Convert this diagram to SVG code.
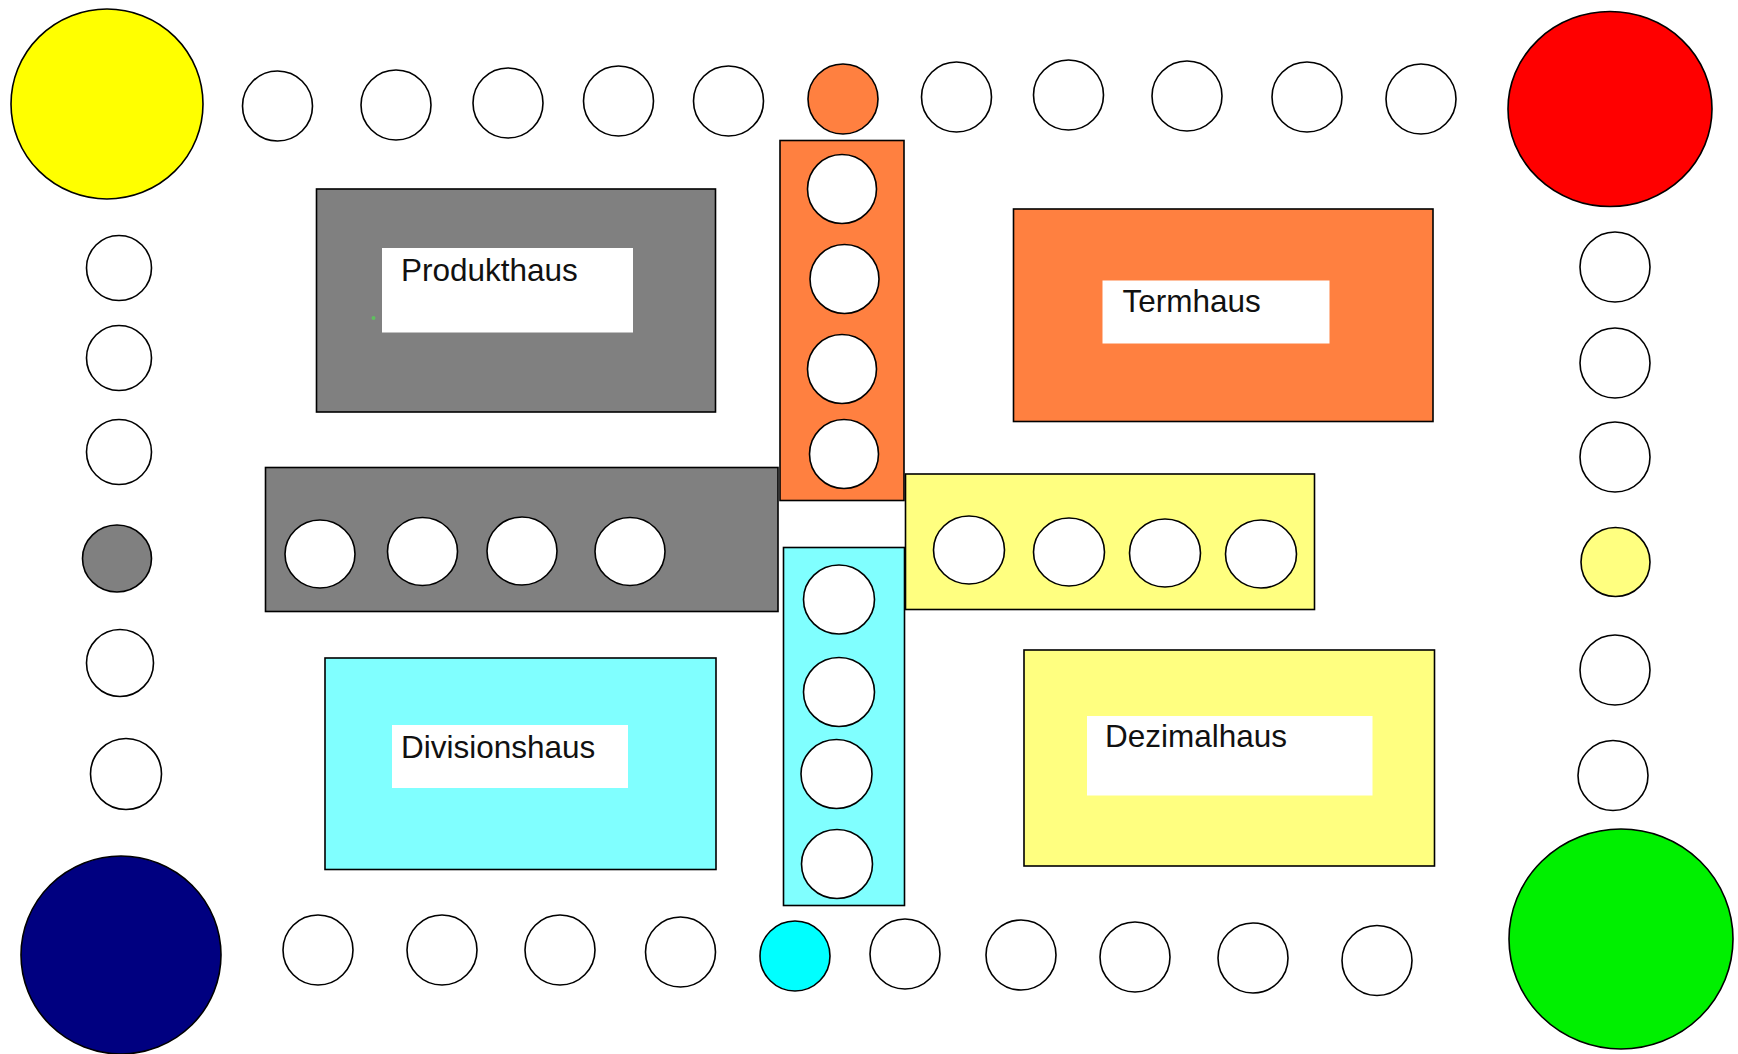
<svg xmlns="http://www.w3.org/2000/svg" width="1738" height="1054" viewBox="0 0 1738 1054">
<style>
.s{stroke:#000;stroke-width:1.6}
.f{fill:#fff;stroke:#000;stroke-width:1.6}
.lab{fill:#fff}
.t{font-family:"Liberation Sans",Arial,sans-serif;font-size:31.5px;fill:#111}
</style>
<rect width="1738" height="1054" fill="#fff"/>
<g id="corners">
<ellipse id="start-yellow" cx="107" cy="104" rx="96" ry="95" fill="#FFFF00" class="s"/>
<ellipse id="start-red" cx="1610" cy="109" rx="102" ry="97.5" fill="#FF0000" class="s"/>
<ellipse id="start-blue" cx="121" cy="955" rx="100" ry="99" fill="#000080" class="s"/>
<ellipse id="start-green" cx="1621" cy="939" rx="112" ry="110" fill="#00F000" class="s"/>
</g>
<g id="track-top">
<circle cx="277.5" cy="106" r="35" class="f"/>
<circle cx="396" cy="105" r="35" class="f"/>
<circle cx="508" cy="103" r="35" class="f"/>
<circle cx="618.5" cy="101" r="35" class="f"/>
<circle cx="728.5" cy="101" r="35" class="f"/>
<circle cx="843" cy="99" r="35" fill="#FF8040" class="s"/>
<circle cx="956.5" cy="97" r="35" class="f"/>
<circle cx="1068.5" cy="95" r="35" class="f"/>
<circle cx="1187" cy="96" r="35" class="f"/>
<circle cx="1307" cy="97" r="35" class="f"/>
<circle cx="1421" cy="99" r="35" class="f"/>
</g>
<g id="track-left">
<circle cx="119" cy="268" r="32.5" class="f"/>
<circle cx="119" cy="358" r="32.5" class="f"/>
<circle cx="119" cy="452" r="32.5" class="f"/>
<ellipse cx="117" cy="558.5" rx="34.5" ry="33.5" fill="#808080" class="s"/>
<circle cx="120" cy="663" r="33.5" class="f"/>
<circle cx="126" cy="774" r="35.5" class="f"/>
</g>
<g id="track-right">
<circle cx="1615" cy="267" r="35" class="f"/>
<circle cx="1615" cy="363" r="35" class="f"/>
<circle cx="1615" cy="457" r="35" class="f"/>
<circle cx="1615.5" cy="562" r="34.5" fill="#FFFF80" class="s"/>
<circle cx="1615" cy="670" r="35" class="f"/>
<circle cx="1613" cy="775.5" r="35" class="f"/>
</g>
<g id="track-bottom">
<circle cx="318" cy="950" r="35" class="f"/>
<circle cx="442" cy="950" r="35" class="f"/>
<circle cx="560" cy="950" r="35" class="f"/>
<circle cx="680.5" cy="952" r="35" class="f"/>
<circle cx="795" cy="956" r="35" fill="#00FFFF" class="s"/>
<circle cx="905" cy="954" r="35" class="f"/>
<circle cx="1021" cy="955" r="35" class="f"/>
<circle cx="1135" cy="957" r="35" class="f"/>
<circle cx="1253" cy="958" r="35" class="f"/>
<circle cx="1377" cy="960.5" r="35" class="f"/>
</g>
<g id="produkthaus">
<rect x="316.5" y="189" width="399" height="223" fill="#808080" class="s"/>
<rect x="382" y="248" width="251" height="84.5" class="lab"/>
<text x="401" y="281" class="t">Produkthaus</text>
<circle cx="373.5" cy="318" r="2" fill="#5fbf5f"/>
</g>
<g id="termhaus">
<rect x="1013.5" y="209" width="419.5" height="212.5" fill="#FF8040" class="s"/>
<rect x="1102.5" y="280.5" width="227" height="63" class="lab"/>
<text x="1122.5" y="312" class="t">Termhaus</text>
</g>
<g id="divisionshaus">
<rect x="325" y="658" width="391" height="211.5" fill="#80FFFF" class="s"/>
<rect x="392" y="725" width="236" height="63" class="lab"/>
<text x="401" y="758" class="t">Divisionshaus</text>
</g>
<g id="dezimalhaus">
<rect x="1024" y="650" width="410.5" height="216" fill="#FFFF80" class="s"/>
<rect x="1087" y="716" width="285.5" height="79.5" class="lab"/>
<text x="1105" y="747" class="t">Dezimalhaus</text>
</g>
<g id="home-orange">
<rect x="780" y="140.5" width="124" height="360" fill="#FF8040" class="s"/>
<circle cx="842" cy="189" r="34.5" class="f"/>
<circle cx="844.5" cy="279" r="34.5" class="f"/>
<circle cx="842" cy="369" r="34.5" class="f"/>
<circle cx="844" cy="454" r="34.5" class="f"/>
</g>
<g id="home-gray">
<rect x="265.5" y="467.5" width="512.5" height="144" fill="#808080" class="s"/>
<ellipse cx="320" cy="554" rx="35" ry="34" class="f"/>
<ellipse cx="422.5" cy="551.5" rx="35" ry="34" class="f"/>
<ellipse cx="522" cy="551" rx="35" ry="34" class="f"/>
<ellipse cx="630" cy="551.5" rx="35" ry="34" class="f"/>
</g>
<g id="home-yellow">
<rect x="905.5" y="474" width="409" height="135.5" fill="#FFFF80" class="s"/>
<ellipse cx="969" cy="550" rx="35.5" ry="34" class="f"/>
<ellipse cx="1069" cy="552" rx="35.5" ry="34" class="f"/>
<ellipse cx="1165" cy="553" rx="35.5" ry="34" class="f"/>
<ellipse cx="1261" cy="554" rx="35.5" ry="34" class="f"/>
</g>
<g id="home-cyan">
<rect x="783.5" y="547.5" width="121" height="358" fill="#80FFFF" class="s"/>
<ellipse cx="839" cy="599.5" rx="35.5" ry="34.5" class="f"/>
<ellipse cx="839" cy="692" rx="35.5" ry="34.5" class="f"/>
<ellipse cx="836.5" cy="774" rx="35.5" ry="34.5" class="f"/>
<ellipse cx="837" cy="864" rx="35.5" ry="34.5" class="f"/>
</g>
<g id="connectors"></g>
</svg>
